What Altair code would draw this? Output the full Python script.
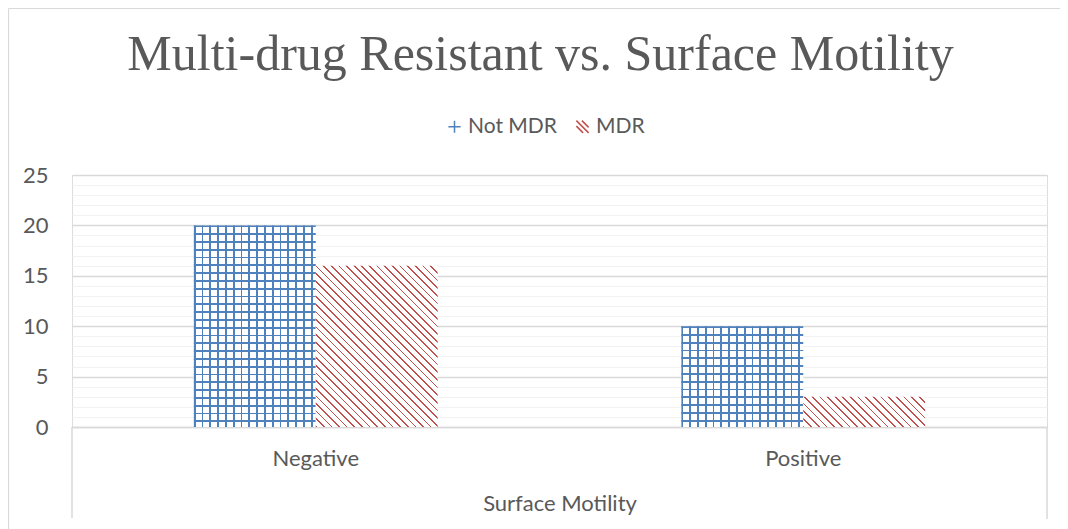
import math
import altair as alt
import pandas as pd

# ---------------- data ----------------
categories = ["Negative", "Positive"]
series = ["Not MDR", "MDR"]
not_mdr = [20, 10]
mdr = [16, 3]
y_ticks = list(range(0, 26))

rows = []
for c, a, b in zip(categories, not_mdr, mdr):
    rows.append({"category": c, "series": "Not MDR", "value": a})
    rows.append({"category": c, "series": "MDR", "value": b})
df = pd.DataFrame(rows)

# ---------------- style ----------------
W, H = 975, 252
Y_MAX = 25
PAD = {"left": 64, "top": 167, "right": 13, "bottom": 110}
BLUE = "#4F81BD"
RED = "#C0504D"
GRID = "#D9D9D9"
MINOR = "#F2F2F2"
TEXT = "#595959"
FONT = "Lato"
FS = 22
CLEAR = "rgba(255,255,255,0)"

P_INNER, P_OUTER = 0.5, 0.25
step = W / (len(categories) - P_INNER + 2 * P_OUTER)
bar_w = step * (1 - P_INNER) / len(series)


def px_h(v):
    return v * H / Y_MAX


def stripes(length_px, period, line, color, gap, **coords):
    stops = []
    t = 0.0
    while t < length_px - 1e-9:
        a = t / length_px
        b = min((t + line) / length_px, 1.0)
        nxt = min((t + period) / length_px, 1.0)
        stops.append({"offset": a, "color": color})
        stops.append({"offset": b, "color": color})
        if b < 1.0:
            stops.append({"offset": b, "color": gap})
            stops.append({"offset": nxt, "color": gap})
        t += period
    return dict(gradient="linear", stops=stops, **coords)


def diag(h_px, period, line, color, gap):
    w = bar_w
    k = (w + h_px) / (w * w + h_px * h_px)
    length = (w + h_px) / math.sqrt(2)
    return stripes(length, period, line, color, gap,
                   x1=0, y1=1, x2=k * w, y2=1 - k * h_px)


x_enc = alt.X(
    "category:N",
    sort=categories,
    scale=alt.Scale(domain=categories, paddingInner=P_INNER, paddingOuter=P_OUTER),
    axis=alt.Axis(
        title="Surface Motility", labelAngle=0, ticks=False, grid=False,
        domainColor=GRID, domainWidth=1.5,
        labelFont=FONT, labelFontSize=FS, labelColor=TEXT, labelPadding=21,
        titleFont=FONT, titleFontSize=FS, titleColor=TEXT, titleFontWeight="normal",
        titlePadding=24,
    ),
)
xo_enc = alt.XOffset("series:N", scale=alt.Scale(domain=series, paddingInner=0, paddingOuter=0))
y_enc = alt.Y(
    "value:Q",
    scale=alt.Scale(domain=[0, Y_MAX], nice=False),
    axis=alt.Axis(
        title=None, values=y_ticks, domain=False, ticks=False, tickSize=0,
        labelExpr="datum.value % 5 === 0 ? datum.label : ''",
        gridColor={"condition": {"test": "datum.value % 5 === 0", "value": GRID}, "value": MINOR},
        gridWidth={"condition": {"test": "datum.value % 5 === 0", "value": 1.5}, "value": 1.2},
        labelFont=FONT, labelFontSize=FS, labelColor=TEXT, labelPadding=24,
    ),
)

layers = []
# Not MDR: horizontal stripes per bar (opaque background)
for c, v in zip(categories, not_mdr):
    layers.append(
        alt.Chart(df)
        .transform_filter((alt.datum.category == c) & (alt.datum.series == "Not MDR"))
        .mark_bar(fill=stripes(px_h(v), 7.8, 1.8, BLUE, "#FFFFFF", x1=0, y1=0, x2=0, y2=1),
                  strokeWidth=0)
        .encode(x=x_enc, xOffset=xo_enc, y=y_enc)
    )
# Not MDR: vertical stripes overlay
layers.append(
    alt.Chart(df)
    .transform_filter(alt.datum.series == "Not MDR")
    .mark_bar(fill=stripes(bar_w, 7.8, 1.8, BLUE, CLEAR, x1=0, y1=0, x2=1, y2=0),
              strokeWidth=0)
    .encode(x=x_enc, xOffset=xo_enc, y=y_enc)
)
# MDR: diagonal stripes
for c, v in zip(categories, mdr):
    layers.append(
        alt.Chart(df)
        .transform_filter((alt.datum.category == c) & (alt.datum.series == "MDR"))
        .mark_bar(fill=diag(px_h(v), 5.4, 1.2, RED, "#FFFFFF"), strokeWidth=0)
        .encode(x=x_enc, xOffset=xo_enc, y=y_enc)
    )

# legend carrier (invisible points)
legend = alt.Legend(
    title=None, orient="none", legendX=372, legendY=-59, direction="horizontal",
    labelFont=FONT, labelFontSize=21, labelColor=TEXT, symbolSize=150,
    symbolStrokeWidth=1.5, symbolOpacity=1, columnPadding=15, labelOffset=3,
)
plus_path = "M0,-1V1M-1,0H1"
diag_path = "M-1,-1L1,1M-0.1,-1L1,0.1M-1,-0.1L0.1,1"
layers.append(
    alt.Chart(df)
    .mark_point(opacity=0, filled=False)
    .encode(
        x=x_enc, xOffset=xo_enc, y=y_enc,
        color=alt.Color("series:N", scale=alt.Scale(domain=series, range=[BLUE, RED]), legend=legend),
        shape=alt.Shape("series:N", scale=alt.Scale(domain=series, range=[plus_path, diag_path]), legend=legend),
    )
)

# chart frame and category-level bracket lines
one = pd.DataFrame({"k": [0]})
frame = [
    alt.Chart(one).mark_rule(color=GRID, strokeWidth=1.2).encode(
        x=alt.value(-63.5), y=alt.value(-166.5), y2=alt.value(H + PAD["bottom"])),
    alt.Chart(one).mark_rule(color=GRID, strokeWidth=1.2).encode(
        x=alt.value(-63.5), x2=alt.value(W + PAD["right"]), y=alt.value(-166.5)),
    alt.Chart(one).mark_rule(color=GRID, strokeWidth=1.5).encode(
        x=alt.value(0), y=alt.value(H), y2=alt.value(H + 91)),
    alt.Chart(one).mark_rule(color=GRID, strokeWidth=1.5).encode(
        x=alt.value(W), y=alt.value(H), y2=alt.value(H + 92)),
]

chart = (
    alt.layer(*frame, *layers)
    .properties(
        width=W, height=H,
        padding=PAD,
        autosize=alt.AutoSizeParams(type="none"),
        title=alt.TitleParams(
            text="Multi-drug Resistant vs. Surface Motility",
            font="Liberation Serif", fontSize=50, fontWeight="normal",
            color=TEXT, anchor="middle", offset=-112, dx=-19, baseline="alphabetic",
        ),
    )
    .configure_view(stroke=None)
    .configure(background="white")
)

chart.save("out.html", embed_options={"renderer": "svg", "actions": False})
